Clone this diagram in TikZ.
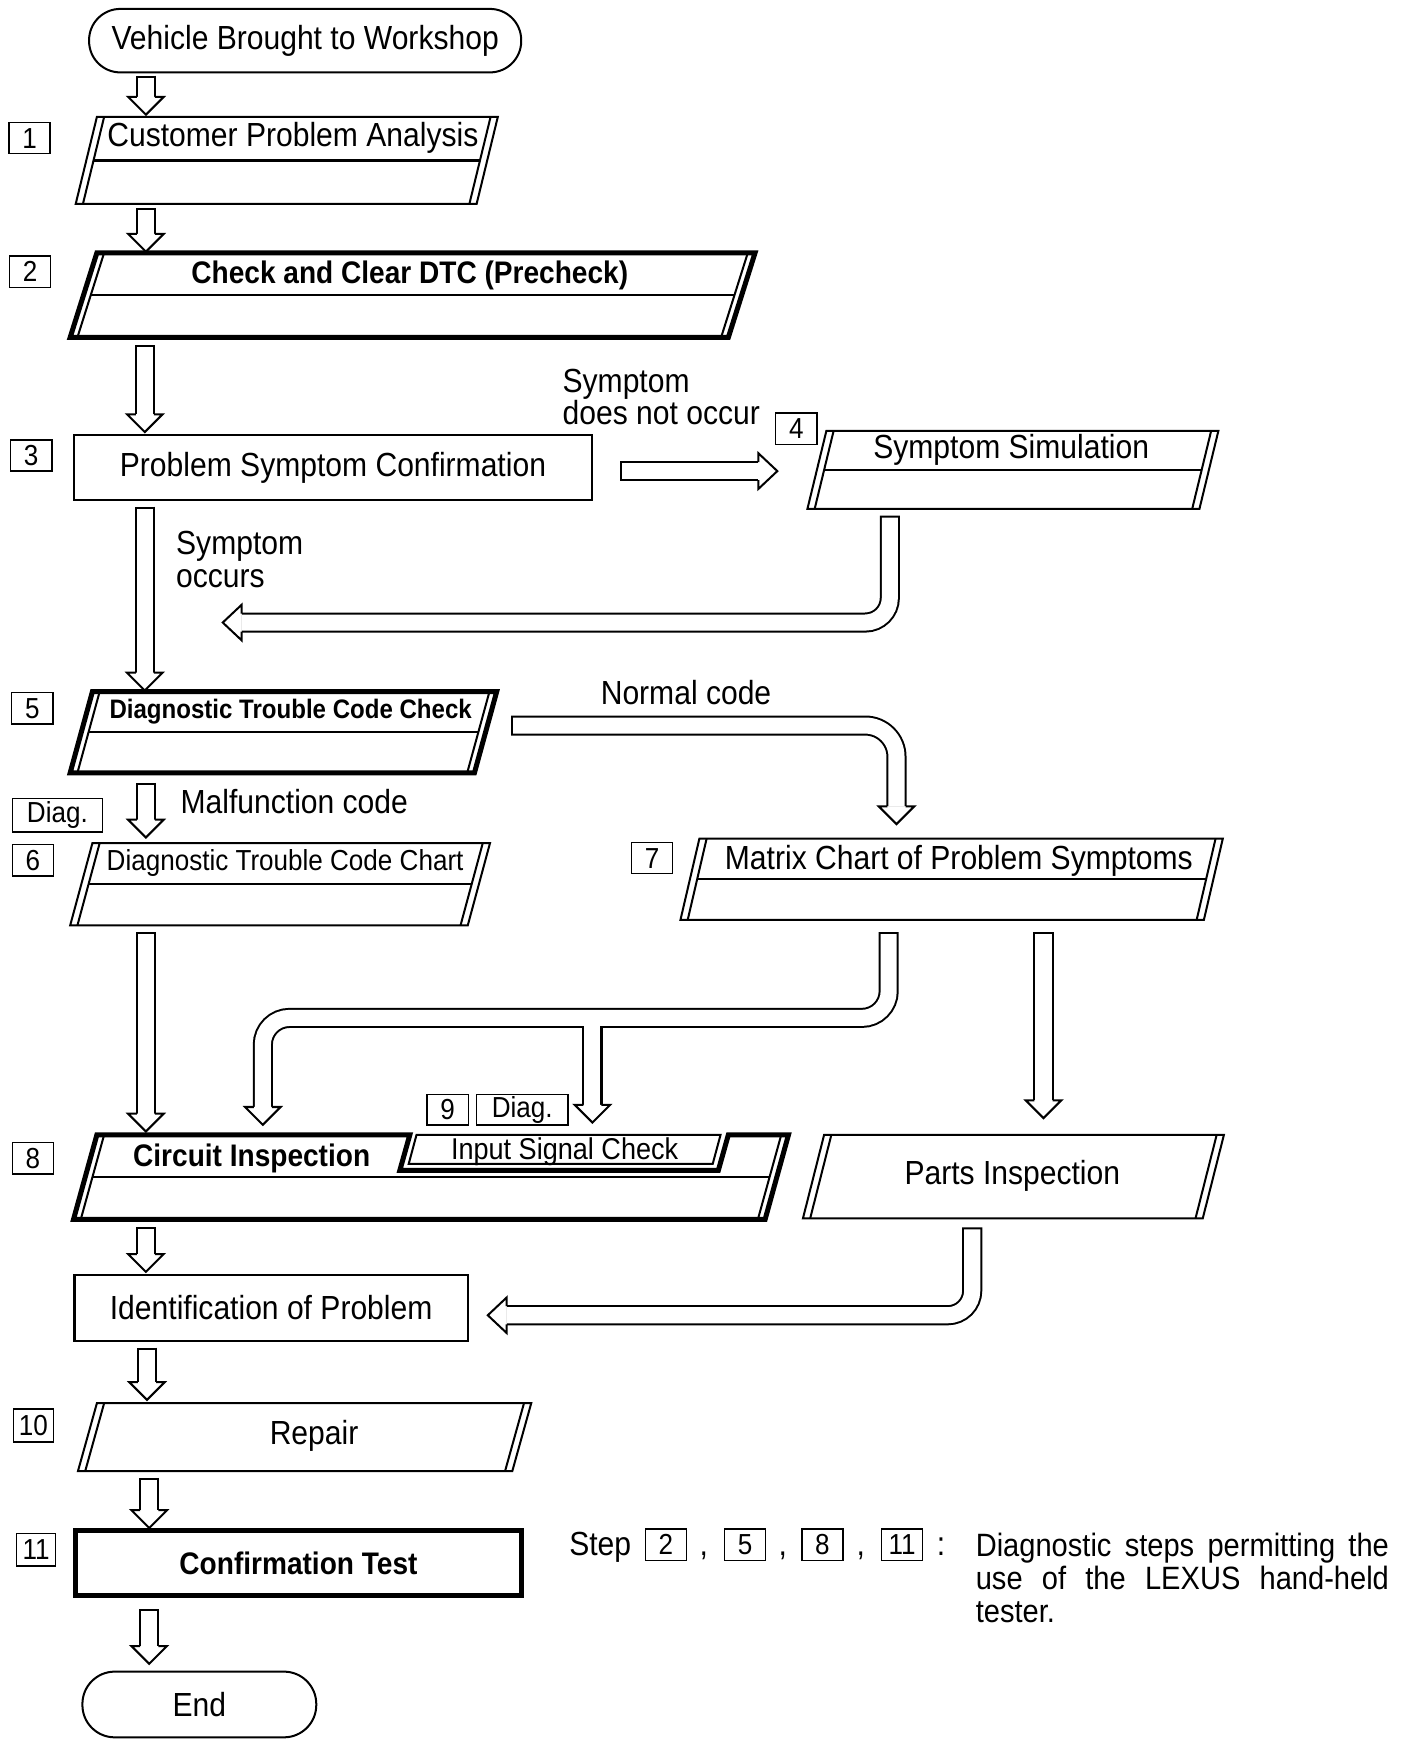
\documentclass[tikz,border=0pt]{standalone}
\usepackage{fontspec}
\setmainfont{Liberation Sans}[FakeStretch=0.9]

% parallelogram with doubled slanted sides: style, x top left, x top right, y top, y bottom, slant
\newcommand{\pgram}[6]{%
  \draw[#1] (#2,#4) -- (#3,#4) -- ({#3-#6},#5) -- ({#2-#6},#5) -- cycle;
  \draw[thinline] ({#2+6.5},#4) -- ({#2-#6+6.5},#5);
  \draw[thinline] ({#3-6.5},#4) -- ({#3-#6-6.5},#5);}
% divider half way down
\newcommand{\pmid}[5]{%
  \draw[midline] ({#1-#5/2+6.5},{(#3+#4)/2}) -- ({#2-#5/2-6.5},{(#3+#4)/2});}
% hollow arrow shaft
\newcommand{\shaft}[2][]{%
  \draw[line width=18pt,#1] #2;
  \draw[white,line width=14.4pt,shorten <=1.8pt,#1] #2;}

\tikzset{
  thinline/.style={line width=1.8pt},
  thickline/.style={line width=4.5pt},
  midline/.style={line width=2.2pt},
  stepno/.style={draw, line width=1.3pt, minimum width=37pt, minimum height=28pt,
    inner sep=0pt, font=\fontsize{26}{26}\selectfont},
  txt/.style={font=\fontsize{30}{33}\selectfont, inner sep=0pt},
  btxt/.style={font=\bfseries\fontsize{28}{32}\selectfont, inner sep=0pt},
  note/.style={font=\fontsize{30}{29}\selectfont, inner sep=0pt, align=left},
  pics/headdown/.style={code={
    \fill[white] (-16,0) -- (0,16) -- (16,0) -- cycle;
    \draw[thinline] (-8.1,0) -- (-16,0) -- (0,16) -- (16,0) -- (8.1,0);}},
  pics/headleft/.style={code={
    \fill[white] (0,-16) -- (-17,0) -- (0,16) -- cycle;
    \draw[thinline] (0,-8.1) -- (0,-16) -- (-17,0) -- (0,16) -- (0,8.1);}},
  pics/headright/.style={code={
    \fill[white] (0,-16) -- (17,0) -- (0,16) -- cycle;
    \draw[thinline] (0,-8.1) -- (0,-16) -- (17,0) -- (0,16) -- (0,8.1);}},
}

\begin{document}
\begin{tikzpicture}[x=1pt,y=-1pt]
\useasboundingbox[fill=white] (0,0) rectangle (1264,1566);

% terminals and plain boxes
\node[draw, thinline, rounded corners=28pt, minimum width=388pt, minimum height=57pt, txt] (start) at (274,36.5) {Vehicle Brought to Workshop};
\node[draw, thinline, minimum width=466pt, minimum height=58pt, txt] (confirm) at (299,420) {Problem Symptom Confirmation};
\node[draw, midline, minimum width=353pt, minimum height=59pt, txt] (ident) at (243.5,1174.5) {Identification of Problem};
\node[draw, thickline, minimum width=400pt, minimum height=59pt, btxt] (test) at (268,1403.5) {Confirmation Test};
\node[draw, thinline, rounded corners=29pt, minimum width=210pt, minimum height=59pt, txt] (finish) at (179,1530.5) {End};

% parallelograms
\pgram{thinline}{87}{447}{105}{183}{19} \pmid{87}{447}{105}{183}{19}
\node[txt] (analysis) at (263,124) {Customer Problem Analysis};
\pgram{thickline}{87}{678}{227}{303}{24} \pmid{87}{678}{227}{303}{24}
\node[btxt] (precheck) at (368,247) {Check and Clear DTC (Precheck)};
\pgram{thinline}{742}{1094}{387}{457}{17} \pmid{742}{1094}{387}{457}{17}
\node[txt] (simulation) at (908,404) {Symptom Simulation};
\pgram{thickline}{83}{446}{621}{694}{20} \pmid{83}{446}{621}{694}{20}
\node[font=\bfseries\fontsize{24}{28}\selectfont, inner sep=0pt] (dtccheck) at (261,639) {Diagnostic Trouble Code Check};
\pgram{thinline}{83}{440}{757}{831}{20} \pmid{83}{440}{757}{831}{20}
\node[font=\fontsize{26}{30}\selectfont, inner sep=0pt] (dtcchart) at (256,775) {Diagnostic Trouble Code Chart};
\pgram{thinline}{628}{1098}{753}{826}{17} \pmid{628}{1098}{753}{826}{17}
\node[txt] (matrix) at (861,773) {Matrix Chart of Problem Symptoms};
\pgram{thinline}{740}{1099}{1019}{1094}{19}
\node[txt] (parts) at (909,1056) {Parts Inspection};
\pgram{thinline}{87}{477}{1260}{1321}{17}
\node[txt] (repair) at (282,1289) {Repair};

% circuit inspection with the input signal notch
\draw[thickline] (654,1019) -- (645,1051) -- (359,1051) -- (368,1019) -- (87,1019) -- (66,1095) -- (687,1095) -- (708,1019) -- cycle;
\draw[thinline] (93.5,1019) -- (72.5,1095);
\draw[thinline] (701.5,1019) -- (680.5,1095);
\draw[midline] (83,1057) -- (691,1057);
\draw[thinline] (374,1019) -- (367,1045) -- (640,1045) -- (647,1019) -- cycle;
\node[btxt] (circuit) at (226,1040) {Circuit Inspection};
\node[font=\fontsize{27}{30}\selectfont, inner sep=0pt] (inputsig) at (507,1034) {Input Signal Check};

% step numbers
\node[stepno] (n1) at (26.5,124) {1};
\node[stepno] (n2) at (27,244) {2};
\node[stepno] (n3) at (28,409) {3};
\node[stepno] (n4) at (715,385) {4};
\node[stepno] (n5) at (29,636) {5};
\node[stepno, minimum width=81pt, minimum height=30pt] (diag6) at (51.5,732) {Diag.};
\node[stepno] (n6) at (29.5,772.5) {6};
\node[stepno] (n7) at (585.5,770.5) {7};
\node[stepno] (n8) at (29.5,1040) {8};
\node[stepno, minimum height=27pt] (n9) at (402,996.5) {9};
\node[stepno, minimum width=82pt, minimum height=27pt] (diag9) at (469,996.5) {Diag.};
\node[stepno, minimum width=36pt, minimum height=30pt] (n10) at (30,1280) {10};
\node[stepno, minimum width=35pt, minimum height=29pt] (n11) at (32.5,1391.5) {11};

% branch labels
\node[note, anchor=west] (nooccur) at (505,356.5) {Symptom\\does not occur};
\node[note, anchor=west] (occurs) at (158,502.5) {Symptom\\occurs};
\node[txt] (normal) at (616,622) {Normal code};
\node[txt, anchor=west] (malfunction) at (162,720) {Malfunction code};

% straight arrows
\coordinate (a1t) at (131,68);    \coordinate (a1h) at (131,87);
\coordinate (a2t) at (131,187);   \coordinate (a2h) at (131,210);
\coordinate (a3t) at (130,310);   \coordinate (a3h) at (130,372);
\coordinate (a5t) at (130,455);   \coordinate (a5h) at (130,604);
\coordinate (a6t) at (131,703);   \coordinate (a6h) at (131,736);
\coordinate (a8t) at (131,837);   \coordinate (a8h) at (131,1000);
\coordinate (a9t) at (131,1102);  \coordinate (a9h) at (131,1126);
\coordinate (a10t) at (132,1210); \coordinate (a10h) at (132,1241);
\coordinate (a11t) at (134,1327); \coordinate (a11h) at (134,1356);
\coordinate (a12t) at (134,1445); \coordinate (a12h) at (134,1478);
\coordinate (pat) at (937,837);   \coordinate (pah) at (937,988);
\foreach \a in {a1,a2,a3,a5,a6,a8,a9,a10,a11,a12,pa}{
  \shaft{(\a t) -- (\a h)}
  \pic at (\a h) {headdown};
}
\coordinate (a4t) at (557,423);   \coordinate (a4h) at (681,423);
\shaft{(a4t) -- (a4h)}
\pic at (a4h) {headright};

% bent arrows
\coordinate (r4t) at (799,463); \coordinate (r4c) at (799,559); \coordinate (r4h) at (217,559);
\shaft[rounded corners=22pt]{(r4t) -- (r4c) -- (r4h)}
\pic at (r4h) {headleft};

\coordinate (nct) at (459,651.5); \coordinate (ncc) at (805,651.5); \coordinate (nch) at (805,724);
\shaft[rounded corners=28pt]{(nct) -- (ncc) -- (nch)}
\pic at (nch) {headdown};

\coordinate (m1) at (798,837); \coordinate (m2) at (798,914); \coordinate (m3) at (236,914); \coordinate (m4) at (236,994);
\coordinate (mb) at (532,923); \coordinate (mbw) at (532,919); \coordinate (mbh) at (532,992);
\draw[line width=18pt, rounded corners=24pt] (m1) -- (m2) -- (m3) -- (m4);
\draw[line width=18pt] (mb) -- (mbh);
\draw[white, line width=14.4pt, shorten <=1.8pt, rounded corners=24pt] (m1) -- (m2) -- (m3) -- (m4);
\draw[white, line width=14.4pt] (mbw) -- (mbh);
\pic at (m4) {headdown};
\pic at (mbh) {headdown};

\coordinate (prt) at (873,1102); \coordinate (prc) at (873,1181); \coordinate (prh) at (455,1181);
\shaft[rounded corners=22pt]{(prt) -- (prc) -- (prh)}
\pic at (prh) {headleft};

% note at the bottom
\node[txt, anchor=base west] (step) at (511,1397) {Step};
\node[stepno] (s2) at (598,1387) {2};
\node[txt, anchor=base] (c1) at (632,1397) {,};
\node[stepno] (s5) at (669,1387) {5};
\node[txt, anchor=base] (c2) at (703,1397) {,};
\node[stepno] (s8) at (738.5,1387) {8};
\node[txt, anchor=base] (c3) at (773,1397) {,};
\node[stepno] (s11) at (810,1387) {11};
\node[txt, anchor=base] (colon) at (845,1397) {:};
\node[anchor=north west, inner sep=0pt, font=\fontsize{29}{30}\selectfont, align=left] (explain) at (876,1376)
  {\makebox[371pt][s]{Diagnostic steps permitting the}\\
   \makebox[371pt][s]{use of the LEXUS hand-held}\\
   tester.};
\end{tikzpicture}
\end{document}
